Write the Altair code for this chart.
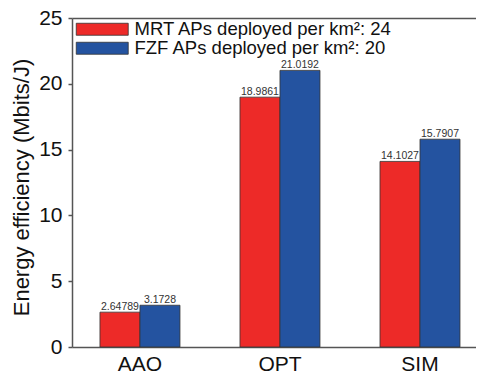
import altair as alt
import pandas as pd

categories = ["AAO", "OPT", "SIM"]
series = ["MRT APs deployed per km²: 24", "FZF APs deployed per km²: 20"]
mrt_values = [2.64789, 18.9861, 14.1027]
fzf_values = [3.1728, 21.0192, 15.7907]
mrt_labels = ["2.64789", "18.9861", "14.1027"]
fzf_labels = ["3.1728", "21.0192", "15.7907"]
colors = ["#ED2A28", "#2453A0"]

rows = []
for i, c in enumerate(categories):
    rows.append({"cat": c, "series": series[0], "value": mrt_values[i], "label": mrt_labels[i]})
    rows.append({"cat": c, "series": series[1], "value": fzf_values[i], "label": fzf_labels[i]})
df = pd.DataFrame(rows)

FONT = "Liberation Sans"
FRAME = "#555"

xscale = alt.Scale(paddingInner=0.428571, paddingOuter=0.157, align=0.636)
x_bottom = alt.X("cat:N", sort=categories, title=None, scale=xscale,
                 axis=alt.Axis(labelAngle=0, labelFontSize=21, labelColor="#111", ticks=False,
                               domain=True, domainColor=FRAME, domainWidth=1.5,
                               labelPadding=6, labelFont=FONT))
x_top = alt.X("cat:N", sort=categories, title=None, scale=xscale,
              axis=alt.Axis(orient="top", labels=False, ticks=False, domain=True,
                            domainColor=FRAME, domainWidth=1.5))
xoff = alt.XOffset("series:N", sort=series, scale=alt.Scale(paddingInner=0, paddingOuter=0))
y = alt.Y("value:Q", title="Energy efficiency (Mbits/J)",
          scale=alt.Scale(domain=[0, 25], nice=False),
          axis=alt.Axis(values=[0, 5, 10, 15, 20, 25], grid=False, tickSize=4, tickColor=FRAME,
                        tickWidth=1.5, domain=True, domainColor=FRAME, domainWidth=1.5,
                        labelFontSize=21, labelColor="#111",
                        labelPadding=6, titleFontSize=22, titleFontWeight="normal",
                        titleColor="#111", titlePadding=5, titleY=169,
                        labelFont=FONT, titleFont=FONT))

bars = alt.Chart(df).mark_bar(stroke="#333", strokeWidth=0.8).encode(
    x=x_bottom, xOffset=xoff, y=y,
    color=alt.Color("series:N", sort=series, scale=alt.Scale(domain=series, range=colors),
                    legend=alt.Legend(title=None, orient="none", legendX=21, legendY=2,
                                      symbolType="M-4.333,-1H4.333V1H-4.333Z", symbolSize=144,
                                      symbolStrokeColor="#333", symbolStrokeWidth=0.8,
                                      symbolOpacity=1, labelFontSize=18.5, labelFont=FONT,
                                      labelColor="#111", labelOffset=23, rowPadding=-4,
                                      labelLimit=400)),
)

texts = alt.Chart(df).mark_text(baseline="alphabetic", dy=-2, fontSize=10.5, font=FONT,
                                color="#333").encode(
    x=x_top, xOffset=xoff, y=y, text="label:N"
)

chart = (bars + texts).resolve_axis(x="independent").properties(
    width=404, height=329,
    autosize=alt.AutoSizeParams(type="none"),
    padding={"left": 64, "top": 10, "right": 0, "bottom": 30},
).configure_view(stroke=None)

chart.save("out.html", embed_options={"renderer": "svg", "actions": False})
